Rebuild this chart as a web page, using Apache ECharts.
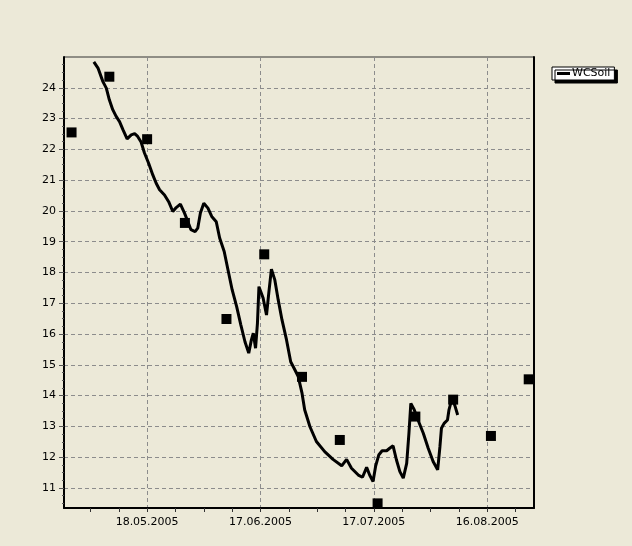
<!DOCTYPE html>
<html>
<head>
<meta charset="utf-8">
<script src="https://cdn.jsdelivr.net/npm/echarts@6/dist/echarts.min.js"></script>
<style>
html, body { margin: 0; padding: 0; background: #ECE9D8; }
#main { width: 632px; height: 546px; }
</style>
</head>
<body>
<div id="main"></div>
<script>
// x = day of year 2005 (1 = 01.01.2005)
var lineDays = [123.9,125.0,126.3,127.2,128.0,128.9,129.8,130.7,131.6,132.7,133.8,134.7,135.5,136.4,137.3,
  138.4,139.5,140.4,141.3,142.6,143.7,144.8,145.7,146.8,147.9,148.8,149.6,150.7,151.4,152.1,153.0,154.1,155.1,156.3,
  157.2,158.4,159.4,160.5,161.7,162.8,163.9,164.9,165.6,166.1,166.7,167.2,167.6,168.7,169.6,170.2,170.9,171.8,172.7,173.7,174.9,176.0,177.1,178.0,
  179.0,179.7,181.1,182.8,185.0,187.2,189.5,190.8,192.1,193.9,195.0,196.1,196.9,197.8,198.5,199.3,200.2,201.4,202.2,203.1,204.0,204.9,
  205.8,206.7,207.3,207.8,208.7,209.7,211.1,212.4,213.7,214.9,215.5,215.9,216.6,217.5,217.9,218.6,219.4,220.2];
var lineValues = [24.84,24.64,24.20,23.99,23.61,23.29,23.07,22.90,22.64,22.34,22.47,22.51,22.42,22.24,21.88,
  21.55,21.17,20.90,20.69,20.52,20.30,19.98,20.11,20.22,19.93,19.65,19.39,19.33,19.44,19.93,20.25,20.09,19.82,19.65,
  19.12,18.68,18.09,17.44,16.89,16.30,15.75,15.38,15.81,16.03,15.54,16.35,17.54,17.17,16.62,17.33,18.11,17.76,17.11,16.46,15.81,15.10,14.84,14.62,
  14.08,13.54,12.99,12.51,12.18,11.93,11.72,11.93,11.64,11.42,11.35,11.67,11.42,11.21,11.72,12.07,12.21,12.21,12.29,12.37,11.91,11.53,
  11.32,11.80,12.78,13.75,13.54,13.21,12.78,12.29,11.86,11.59,12.34,12.94,13.10,13.21,13.54,13.86,13.70,13.37];

var sampleDays = [118,128,138,148,159,169,179,189,199,209,219,229,239];
var sampleValues = [22.55,24.36,22.33,19.61,16.49,18.59,14.61,12.56,10.50,13.32,13.87,12.69,14.53];

var dateTicks = [138,168,198,228];
var valueTicks = [11,12,13,14,15,16,17,18,19,20,21,22,23,24];

var dateMinorTicks = [];
for (var d = 123; d < 240.4; d += 7.5) dateMinorTicks.push(d);
var valueMinorTicks = [];
for (var v = 10.5; v < 25; v += 0.25) valueMinorTicks.push(v);

var lineData = lineDays.map(function (d, i) { return [d, lineValues[i]]; });
var sampleData = sampleDays.map(function (d, i) { return [d, sampleValues[i]]; });

function fmtDate(v) {
  var dt = new Date(2005, 0, Math.round(v));
  var dd = ('0' + dt.getDate()).slice(-2);
  var mm = ('0' + (dt.getMonth() + 1)).slice(-2);
  return dd + '.' + mm + '.' + dt.getFullYear();
}

var font = 'DejaVu Sans';
var xMin = 116, xMax = 240.4, yMin = 10.35, yMax = 25.0;
var gridDash = { color: '#8c8c8c', width: 1, type: [4, 3] };

var chart = echarts.init(document.getElementById('main'));
chart.setOption({
  animation: false,
  backgroundColor: '#ECE9D8',
  textStyle: { fontFamily: font },
  grid: {
    left: 64, top: 57, right: 98, bottom: 38,
    show: true, backgroundColor: '#ECE9D8', borderColor: '#333', borderWidth: 1
  },
  legend: {
    data: ['WCSoil'],
    left: 552, top: 67,
    padding: [1, 4, 1, 5],
    itemWidth: 13, itemHeight: 3, itemGap: 4,
    icon: 'rect',
    backgroundColor: '#fff',
    borderColor: '#000', borderWidth: 1,
    shadowColor: '#000', shadowBlur: 0, shadowOffsetX: 3, shadowOffsetY: 3,
    textStyle: { fontFamily: font, fontSize: 11, color: '#000', padding: [0, 0, 0, -3] }
  },
  xAxis: [
    {
      type: 'value', min: xMin, max: xMax,
      axisLine: { lineStyle: { color: '#000', width: 2 } },
      axisTick: { customValues: dateMinorTicks, length: 4, lineStyle: { color: '#333' } },
      axisLabel: { customValues: dateTicks, formatter: fmtDate, color: '#000', fontSize: 11, fontFamily: font, margin: 9 },
      splitLine: { show: false }
    },
    {
      type: 'value', min: xMin, max: xMax, position: 'bottom',
      axisLine: { show: false },
      axisTick: { show: false, customValues: dateTicks },
      axisLabel: { show: false },
      splitLine: { show: true, lineStyle: gridDash }
    }
  ],
  yAxis: [
    {
      type: 'value', min: yMin, max: yMax,
      axisLine: { show: true, lineStyle: { color: '#000', width: 2 } },
      axisTick: { show: true, customValues: valueTicks, length: 5, lineStyle: { color: '#555' } },
      axisLabel: { customValues: valueTicks, color: '#000', fontSize: 11, fontFamily: font, margin: 8 },
      splitLine: { show: true, lineStyle: gridDash }
    },
    {
      type: 'value', min: yMin, max: yMax, position: 'right',
      axisLine: { show: true, lineStyle: { color: '#000', width: 2 } },
      axisTick: { show: false }, axisLabel: { show: false }, splitLine: { show: false }
    },
    {
      type: 'value', min: yMin, max: yMax, position: 'left',
      axisLine: { show: false },
      axisTick: { show: true, customValues: valueMinorTicks, length: 2, lineStyle: { color: '#555' } },
      axisLabel: { show: false }, splitLine: { show: false }
    }
  ],
  series: [
    {
      name: 'WCSoil', type: 'line', data: lineData,
      showSymbol: false, symbol: 'none',
      lineStyle: { color: '#000', width: 3 },
      itemStyle: { color: '#000' },
      z: 3
    },
    {
      name: 'samples', type: 'scatter', data: sampleData,
      symbol: 'rect', symbolSize: 10,
      itemStyle: { color: '#000', opacity: 1 },
      z: 4
    }
  ]
});
</script>
</body>
</html>
